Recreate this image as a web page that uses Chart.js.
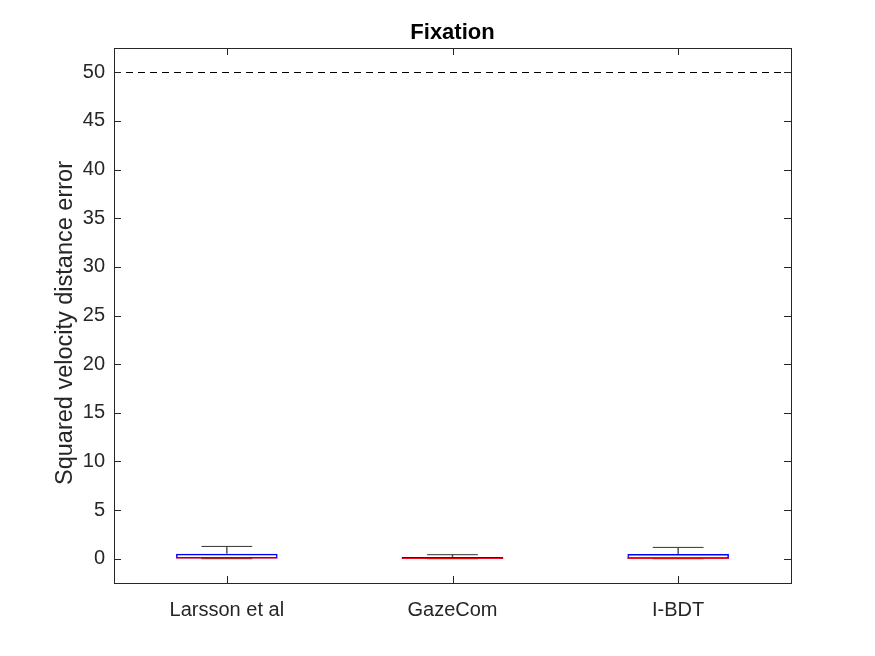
<!DOCTYPE html>
<html>
<head>
<meta charset="utf-8">
<script src="https://cdn.jsdelivr.net/npm/chart.js@4/dist/chart.umd.min.js"></script>
<style>
    body { margin: 0; background: #fff; }
</style>
</head>
<body>
<canvas id="chart" width="875" height="656"></canvas>

<script>
    // box plot values
    const categories = ['Larsson et al', 'GazeCom', 'I-BDT'];
    const whiskerLow = [0, 0, 0];
    const q1 = [0.02, 0.0, 0.0];
    const median = [0.07, 0.03, 0.03];
    const q3 = [0.51, 0.17, 0.48];
    const whiskerHigh = [1.26, 0.41, 1.16];

    const yTicks = [0, 5, 10, 15, 20, 25, 30, 35, 40, 45, 50];
    const yMin = -2.5;
    const yMax = 52.5;
    const refLine = 50;

    const titleText = 'Fixation';
    const yLabel = 'Squared velocity distance error';

    const font = "'Liberation Sans', Arial, Helvetica, sans-serif";
    const axisColor = '#262626';

    const boxes = categories.map((c, i) => [q1[i], q3[i]]);

    // whiskers, medians, dashed line, frame, inward ticks and the texts
    const boxplotExtras = {
        id: 'boxplotExtras',
        afterDatasetsDraw(chart) {
            const ctx = chart.ctx;
            const xs = chart.scales.x;
            const ys = chart.scales.y;
            const area = chart.chartArea;
            const bars = chart.getDatasetMeta(0).data;

            ctx.save();
            ctx.lineWidth = 1;

            // reference line
            ctx.strokeStyle = '#000';
            ctx.setLineDash([7, 5]);
            ctx.beginPath();
            const yr = Math.round(ys.getPixelForValue(refLine)) + 0.5;
            ctx.moveTo(area.left, yr);
            ctx.lineTo(area.right, yr);
            ctx.stroke();
            ctx.setLineDash([]);

            categories.forEach(function (c, i) {
                const cx = xs.getPixelForValue(i);
                const half = bars[i].width / 4;
                const yHi = ys.getPixelForValue(whiskerHigh[i]);
                const yLo = ys.getPixelForValue(whiskerLow[i]);
                const yQ3 = ys.getPixelForValue(q3[i]);
                const yQ1 = ys.getPixelForValue(q1[i]);
                const yMed = ys.getPixelForValue(median[i]);

                // whisker stems
                ctx.strokeStyle = '#555';
                ctx.lineWidth = 1.5;
                ctx.beginPath();
                ctx.moveTo(cx, yQ3);
                ctx.lineTo(cx, yHi);
                ctx.moveTo(cx, yQ1);
                ctx.lineTo(cx, yLo);
                ctx.stroke();

                // caps
                ctx.lineWidth = 1;
                ctx.strokeStyle = '#333';
                ctx.beginPath();
                ctx.moveTo(cx - half, yHi);
                ctx.lineTo(cx + half, yHi);
                ctx.moveTo(cx - half, yLo);
                ctx.lineTo(cx + half, yLo);
                ctx.stroke();

                // median
                ctx.strokeStyle = '#ff0000';
                ctx.beginPath();
                ctx.moveTo(cx - bars[i].width / 2, yMed);
                ctx.lineTo(cx + bars[i].width / 2, yMed);
                ctx.stroke();
            });

            // axes frame
            ctx.strokeStyle = axisColor;
            ctx.strokeRect(Math.round(area.left) + 0.5, Math.round(area.top) + 0.5,
                Math.round(area.right - area.left), Math.round(area.bottom - area.top));

            // inward ticks
            const tl = 7;
            ctx.beginPath();
            yTicks.forEach(function (v) {
                const y = Math.round(ys.getPixelForValue(v)) + 0.5;
                ctx.moveTo(area.left, y);
                ctx.lineTo(area.left + tl, y);
                ctx.moveTo(area.right, y);
                ctx.lineTo(area.right - tl, y);
            });
            categories.forEach(function (c, i) {
                const x = Math.round(xs.getPixelForValue(i)) + 0.5;
                ctx.moveTo(x, area.bottom);
                ctx.lineTo(x, area.bottom - tl);
                ctx.moveTo(x, area.top);
                ctx.lineTo(x, area.top + tl);
            });
            ctx.stroke();

            // title over the axes
            ctx.fillStyle = '#000';
            ctx.font = 'bold 22px ' + font;
            ctx.textAlign = 'center';
            ctx.textBaseline = 'middle';
            ctx.fillText(titleText, (area.left + area.right) / 2, 33);

            // y label
            ctx.fillStyle = axisColor;
            ctx.font = '23.5px ' + font;
            ctx.translate(66, 323);
            ctx.rotate(-Math.PI / 2);
            ctx.fillText(yLabel, 0, 0);
            ctx.restore();
        }
    };

    new Chart(document.getElementById('chart'), {
        type: 'bar',
        data: {
            labels: categories,
            datasets: [{
                label: 'box',
                data: boxes,
                backgroundColor: 'rgba(255,255,255,0)',
                borderColor: '#0000ff',
                borderWidth: 1.5,
                borderSkipped: false,
                barPercentage: 0.45,
                categoryPercentage: 1
            }]
        },
        options: {
            responsive: false,
            animation: false,
            layout: { padding: { left: 0, right: 84, top: 48, bottom: 0 } },
            plugins: {
                legend: { display: false },
                tooltip: { enabled: false },
                title: { display: false }
            },
            scales: {
                x: {
                    offset: true,
                    grid: { display: false, drawTicks: false },
                    border: { display: false },
                    ticks: {
                        color: axisColor,
                        font: { family: font, size: 20 },
                        padding: 15,
                        maxRotation: 0
                    },
                    afterFit: function (scale) { scale.height = 73; }
                },
                y: {
                    min: yMin,
                    max: yMax,
                    grid: { display: false, drawTicks: false },
                    border: { display: false },
                    ticks: {
                        color: axisColor,
                        font: { family: font, size: 20 },
                        padding: 9
                    },
                    afterBuildTicks: function (scale) {
                        scale.ticks = yTicks.map(v => ({ value: v }));
                    },
                    afterFit: function (scale) { scale.width = 114; }
                }
            }
        },
        plugins: [boxplotExtras]
    });
</script>
</body>
</html>
